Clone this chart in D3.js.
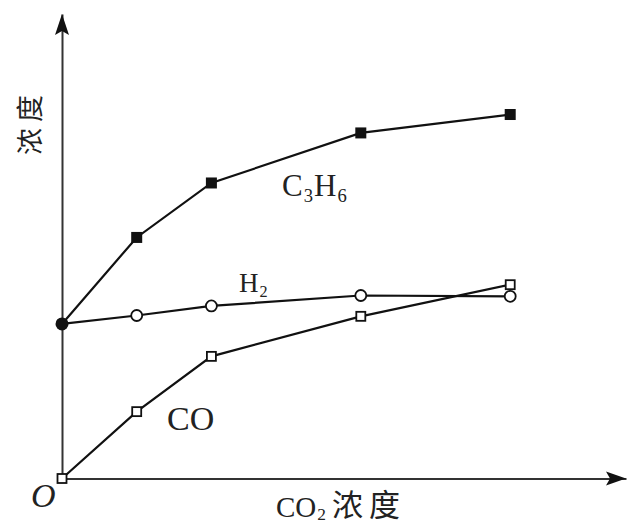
<!DOCTYPE html>
<html><head><meta charset="utf-8">
<script src="https://cdn.jsdelivr.net/npm/d3@7"></script>
<style>html,body{margin:0;padding:0;background:#fff;}svg{display:block;}</style>
</head><body>
<svg id="chart" width="629" height="527"></svg>
<script>
const xValues = [0, 1, 2, 4, 6];
const c3h6 = [3.86, 6.02, 7.38, 8.63, 9.09];
const h2 = [3.86, 4.07, 4.31, 4.57, 4.55];
const co = [0, 1.67, 3.05, 4.05, 4.84];
const seriesNames = ["C3H6", "H2", "CO"];

const svg = d3.select("#chart");
const x = d3.scaleLinear().domain([0, 7.55]).range([62, 626]);
const y = d3.scaleLinear().domain([0, 11.6]).range([478.5, 14]);
const axisColor = "#333";
const serif = "'Liberation Serif','Times New Roman',serif";
const cjk = "'Noto Sans CJK SC',serif";

// axes
const xAxis = d3.axisBottom(x).tickValues([]).tickSizeOuter(0);
const yAxis = d3.axisLeft(y).tickValues([]).tickSizeOuter(0);
svg.append("g").attr("transform", `translate(0,${y(0)})`).call(xAxis)
  .select(".domain").attr("stroke", axisColor).attr("stroke-width", 2);
svg.append("g").attr("transform", `translate(${x(0)},0)`).call(yAxis)
  .select(".domain").attr("stroke", axisColor).attr("stroke-width", 2);

// arrowheads
const xt = x(7.55), yt = y(11.6), x0 = x(0), y0 = y(0);
svg.append("path").attr("d", `M${xt},${y0} L${xt-20},${y0-7} L${xt-16},${y0} L${xt-20},${y0+7} Z`).attr("fill", "#111");
svg.append("path").attr("d", `M${x0},${yt} L${x0-7},${yt+21} L${x0},${yt+17} L${x0+7},${yt+21} Z`).attr("fill", "#111");

const line = d3.line().x((d, i) => x(xValues[i])).y(d => y(d));
const data = {C3H6: c3h6, H2: h2, CO: co};
seriesNames.forEach(n => {
  svg.append("path").datum(data[n]).attr("d", line)
    .attr("fill", "none").attr("stroke", "#111").attr("stroke-width", 2.2);
});

// C3H6 filled squares
svg.selectAll(".sq").data(c3h6.slice(1)).enter().append("rect")
  .attr("x", (d, i) => x(xValues[i + 1]) - 5.5).attr("y", d => y(d) - 5.5)
  .attr("width", 11).attr("height", 11).attr("fill", "#111");
// H2 open circles
svg.selectAll(".ci").data(h2.slice(1)).enter().append("circle")
  .attr("cx", (d, i) => x(xValues[i + 1])).attr("cy", d => y(d)).attr("r", 5.5)
  .attr("fill", "#fff").attr("stroke", "#111").attr("stroke-width", 1.8);
// shared start: filled circle
svg.append("circle").attr("cx", x(xValues[0])).attr("cy", y(h2[0])).attr("r", 6.5).attr("fill", "#111");
// CO open squares
svg.selectAll(".osq").data(co).enter().append("rect")
  .attr("x", (d, i) => x(xValues[i]) - 4.5).attr("y", d => y(d) - 4.5)
  .attr("width", 9).attr("height", 9).attr("fill", "#fff").attr("stroke", "#111").attr("stroke-width", 1.8);

// labels
function chem(tx, ty, parts, size, subShift) {
  const sh = subShift === undefined ? 0.18 : subShift;
  const t = svg.append("text").attr("x", tx).attr("y", ty)
    .attr("font-family", serif).attr("font-size", size).attr("fill", "#222");
  parts.forEach(p => {
    if (p.sub) {
      t.append("tspan").attr("font-size", size * 0.6).attr("dy", size * sh).attr("dx", 1).text(p.s);
    } else {
      t.append("tspan").attr("dy", p.reset ? -size * sh : 0).attr("dx", p.reset ? 1 : 0).text(p.s);
    }
  });
  return t;
}
chem(282, 196, [{s: "C"}, {s: "3", sub: true}, {s: "H", reset: true}, {s: "6", sub: true}], 31);
chem(239, 292, [{s: "H"}, {s: "2", sub: true}], 27);
chem(167, 430, [{s: "CO"}], 34);
chem(276, 517, [{s: "CO"}, {s: "2", sub: true}], 29, 0.1);
svg.append("text").attr("x", 332).attr("y", 516).attr("font-family", cjk)
  .attr("font-size", 31).attr("fill", "#222").attr("letter-spacing", 6).text("浓度");
svg.append("text").attr("transform", "translate(40,122) rotate(-90)").attr("text-anchor", "middle")
  .attr("font-family", cjk).attr("font-size", 27).attr("fill", "#222").attr("letter-spacing", 6).text("浓度");
svg.append("text").attr("x", 31).attr("y", 507).attr("font-family", serif).attr("font-style", "italic")
  .attr("font-size", 34).attr("fill", "#222").text("O");
</script>
</body></html>
